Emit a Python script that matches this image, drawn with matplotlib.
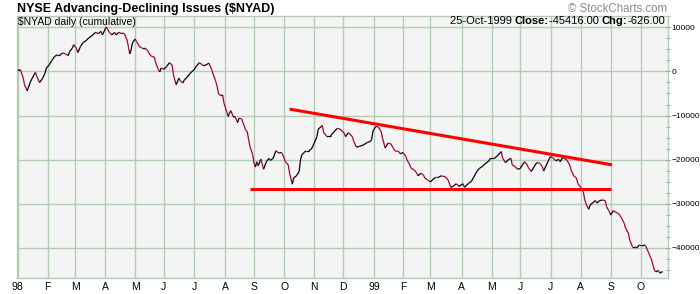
import numpy as np
import pandas as pd
import matplotlib
matplotlib.use("Agg")
import matplotlib.pyplot as plt
from matplotlib.collections import LineCollection

plt.rcParams['font.family'] = ['Liberation Sans', 'DejaVu Sans']

# trading sessions counted from 1 Jan 1998, and the cumulative A-D value
day = [0, 2, 4, 5, 7, 9, 10, 12, 13, 14, 16, 18, 20, 21, 23, 25, 27, 29, 31, 33,
       35, 37, 38, 40, 41, 43, 44, 46, 48, 50, 52, 55, 57, 59, 61, 62, 64, 65, 67, 69,
       71, 72, 74, 76, 77, 78, 80, 81, 82, 83, 84, 86, 87, 89, 91, 93, 95, 96, 98, 100,
       101, 103, 104, 105, 107, 109, 111, 113, 114, 115, 116, 118, 119, 121, 122, 124, 126, 129, 131, 133,
       136, 138, 140, 142, 145, 146, 147, 149, 150, 151, 153, 154, 155, 156, 158, 159, 161, 162, 164, 165,
       167, 168, 169, 170, 172, 173, 174, 175, 176, 178, 180, 182, 184, 185, 187, 189, 191, 193, 194, 196,
       198, 199, 201, 202, 204, 206, 207, 208, 211, 213, 215, 217, 219, 220, 223, 224, 226, 229, 231, 234,
       236, 239, 240, 242, 245, 246, 248, 250, 253, 256, 258, 259, 260, 262, 264, 266, 267, 269, 271, 273,
       275, 276, 279, 280, 282, 284, 285, 287, 288, 290, 292, 293, 295, 297, 298, 300, 302, 304, 306, 308,
       310, 313, 315, 317, 319, 321, 323, 326, 327, 330, 332, 334, 336, 338, 340, 342, 345, 346, 349, 351,
       353, 354, 355, 357, 359, 361, 362, 364, 366, 368, 369, 371, 373, 374, 376, 378, 380, 382, 384, 385,
       387, 389, 390, 392, 394, 396, 397, 399, 402, 404, 405, 407, 409, 410, 412, 414, 415, 416, 418, 419,
       421, 423, 424, 426, 428, 430, 431, 433, 434, 436, 438, 440, 442, 444, 445, 447, 448, 450, 452, 453,
       455, 457, 459, 460, 462, 464, 466, 467, 469, 470, 472]
nyad = [200, 400, -1400, -3000, -4400, -2600, -1900, -750, -200, -1100, -2500, -1700, -400, 800, 1500, 2500, 3400, 3800, 3800, 4200,
        4000, 3600, 4500, 5300, 6100, 5300, 4300, 5700, 6600, 7000, 7600, 8300, 8900, 8600, 9100, 8300, 9600, 10100, 8900, 8300,
        8900, 8300, 8900, 8600, 8700, 8600, 7200, 5700, 4000, 4900, 6500, 7400, 6800, 5700, 5300, 5300, 4800, 4200, 3400, 3300,
        2000, 400, -100, 800, 500, 1100, 2000, 1500, -750, -1900, -3000, -1500, -2100, -2600, -1900, -1300, -500, 400, 1300, 2000,
        1300, 1500, 1900, 400, -2300, -3400, -5100, -5500, -5300, -7200, -9100, -10200, -9500, -8900, -10400, -10200, -11600, -10600, -10800, -11700,
        -13400, -13600, -15400, -17000, -18900, -20800, -21700, -20500, -21400, -19900, -22200, -20500, -19700, -20200, -19700, -18000, -18500, -18400, -18900, -20500,
        -21200, -23100, -25600, -24200, -23700, -22700, -20100, -18900, -18000, -18000, -17600, -16300, -14800, -13100, -12300, -13900, -14600, -14600, -13900, -12900,
        -13100, -14000, -14800, -13900, -14800, -15900, -17200, -17000, -16700, -16100, -15900, -15500, -13600, -12500, -12600, -13600, -15100, -17400, -16300, -16400,
        -17400, -18000, -18200, -18700, -18400, -19200, -20100, -21200, -22000, -22300, -23000, -23700, -23100, -23500, -24200, -24600, -25100, -24500, -24000, -24000,
        -23700, -23900, -24600, -26300, -26000, -25500, -26100, -25500, -26300, -25400, -25000, -23900, -22700, -22000, -21600, -21000, -20300, -19700, -19700, -19200,
        -18500, -18200, -19700, -20700, -20100, -19700, -21200, -21600, -22200, -22000, -21400, -20500, -21200, -22000, -22700, -21600, -20700, -20800, -21600, -22600,
        -21200, -19900, -19300, -19700, -20300, -19900, -20500, -19500, -20100, -21200, -22300, -23700, -24200, -25400, -26300, -27300, -29000, -30100, -31300, -30300,
        -29800, -29300, -29900, -29300, -29200, -29300, -30700, -31800, -32600, -31600, -32000, -32300, -33300, -34500, -35600, -36700, -38300, -39800, -39800, -40100,
        -39400, -39600, -39400, -39800, -41300, -42800, -45100, -45500, -45200, -45800, -45416]

# hand-drawn trend lines (start/end session, value)
upper_day = [199, 435]
upper_val = [-8545, -21200]
lower_day = [170, 434]
lower_val = [-26600, -26600]

months = pd.date_range('1998-01-01', '1999-10-01', freq='MS')
month_pos = np.busday_count('1998-01-01', months.values.astype('datetime64[D]'))
month_lab = [('%02d' % (m.year % 100)) if m.month == 1 else m.strftime('%b')[0] for m in months]

grid_c = '#b4ccb4'
up_c = 'black'
down_c = '#a0003c'

fig = plt.figure(figsize=(7, 2.94), dpi=100)
ax = fig.add_axes([17 / 700, 16 / 294, 651 / 700, 262 / 294])
ax.set_facecolor('#f4f4f4')

x = np.array(day)
y = np.array(nyad)
segs = np.stack([np.column_stack([x[:-1], y[:-1]]), np.column_stack([x[1:], y[1:]])], axis=1)
cols = [up_c if b >= a else down_c for a, b in zip(y[:-1], y[1:])]
ax.add_collection(LineCollection(segs, colors=cols, linewidths=0.9, zorder=3))

ax.plot(upper_day, upper_val, color='#ff0000', lw=2.2, solid_capstyle='butt', zorder=4)
ax.plot(lower_day, lower_val, color='#ff0000', lw=2.2, solid_capstyle='butt', zorder=4)

ax.set_xlim(-0.5, 476)
ax.set_ylim(-46900, 12600)

ax.set_xticks(month_pos)
ax.set_xticklabels(month_lab, fontsize=7.5)
ax.tick_params(axis='x', length=0, pad=3)
ax.set_yticks(np.arange(-40000, 10001, 10000))
ax.set_yticks(np.arange(-45000, 12501, 2500), minor=True)
ax.yaxis.tick_right()
ax.tick_params(axis='y', which='both', direction='inout', length=3, color='#888888',
               labelsize=6, pad=1)
ax.grid(True, color=grid_c, lw=1)
ax.set_axisbelow(True)
for s in ax.spines.values():
    s.set_color(grid_c)
    s.set_linewidth(1)

fig.text(17 / 700, 1 - 9 / 294, 'NYSE Advancing-Declining Issues ($NYAD)', fontsize=9,
         fontweight='bold', va='center', ha='left')
fig.text(667 / 700, 1 - 9 / 294, '\u00a9 StockCharts.com', fontsize=8.3, color='#8c8c8c',
         va='center', ha='right')
ax.text(0.002, 0.995, '$NYAD daily (cumulative)', transform=ax.transAxes, fontsize=7.5,
        va='top', ha='left')

# header on the right, built right to left
r = fig.canvas.get_renderer()
parts = [('-626.00', 'normal'), ('Chg:', 'bold'), ('-45416.00 ', 'normal'),
         ('Close:', 'bold'), ('25-Oct-1999 ', 'normal')]
xr = 665
for txt, w in parts:
    t = fig.text(xr / 700, 1 - 21 / 294, txt, fontsize=8, fontweight=w,
                 ha='right', va='center')
    xr -= t.get_window_extent(r).width

fig.savefig('out.png', dpi=100)
